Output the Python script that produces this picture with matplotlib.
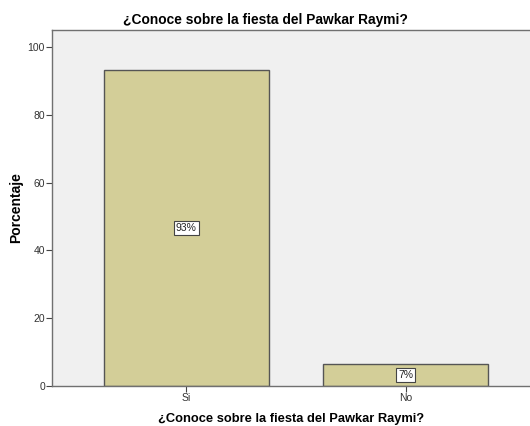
import matplotlib.pyplot as plt

categories = ["Si", "No"]
porcentaje = [93.2, 6.6]
etiquetas = ["93%", "7%"]
titulo = "¿Conoce sobre la fiesta del Pawkar Raymi?"

plt.rcParams['font.family'] = ['Liberation Sans', 'DejaVu Sans']

fig = plt.figure(figsize=(5.3, 4.26), dpi=100)
ax = fig.add_axes([52 / 530, 1 - 386 / 426, 1 - 52 / 530, 356 / 426])
ax.set_facecolor("#f0f0f0")

pos = list(range(len(categories)))
ax.bar(pos, porcentaje, width=0.753, color="#d3ce98", edgecolor="#555555", linewidth=1.0, zorder=2)

for x, v, t in zip(pos, porcentaje, etiquetas):
    ax.text(x, v / 2, t, ha="center", va="center", fontsize=7.5, color="#222222", zorder=3,
            bbox=dict(boxstyle="square,pad=0.2", facecolor="white", edgecolor="#444444", linewidth=0.8))

ax.set_xlim(-0.612, 1.566)
ax.set_ylim(0, 105)
ax.set_xticks(pos)
ax.set_xticklabels(categories)
ax.set_yticks([0, 20, 40, 60, 80, 100])

for s in ["left", "bottom", "top"]:
    ax.spines[s].set_color("#707070")
    ax.spines[s].set_linewidth(1.0)
ax.spines["right"].set_visible(False)

ax.tick_params(axis="both", length=4, width=0.8, color="#444444", labelsize=7.5, labelcolor="#333333", pad=1)

ax.set_ylabel("Porcentaje", fontsize=10, fontweight="bold")
ax.yaxis.set_label_coords(-29 / 478, 0.5)
ax.set_xlabel(titulo, fontsize=9.3, fontweight="bold")
ax.xaxis.set_label_coords(0.5, -0.075)
fig.text(0.5, 1 - 20 / 426, titulo, ha="center", va="center", fontsize=9.9, fontweight="bold")

fig.savefig("out.png", dpi=100)
